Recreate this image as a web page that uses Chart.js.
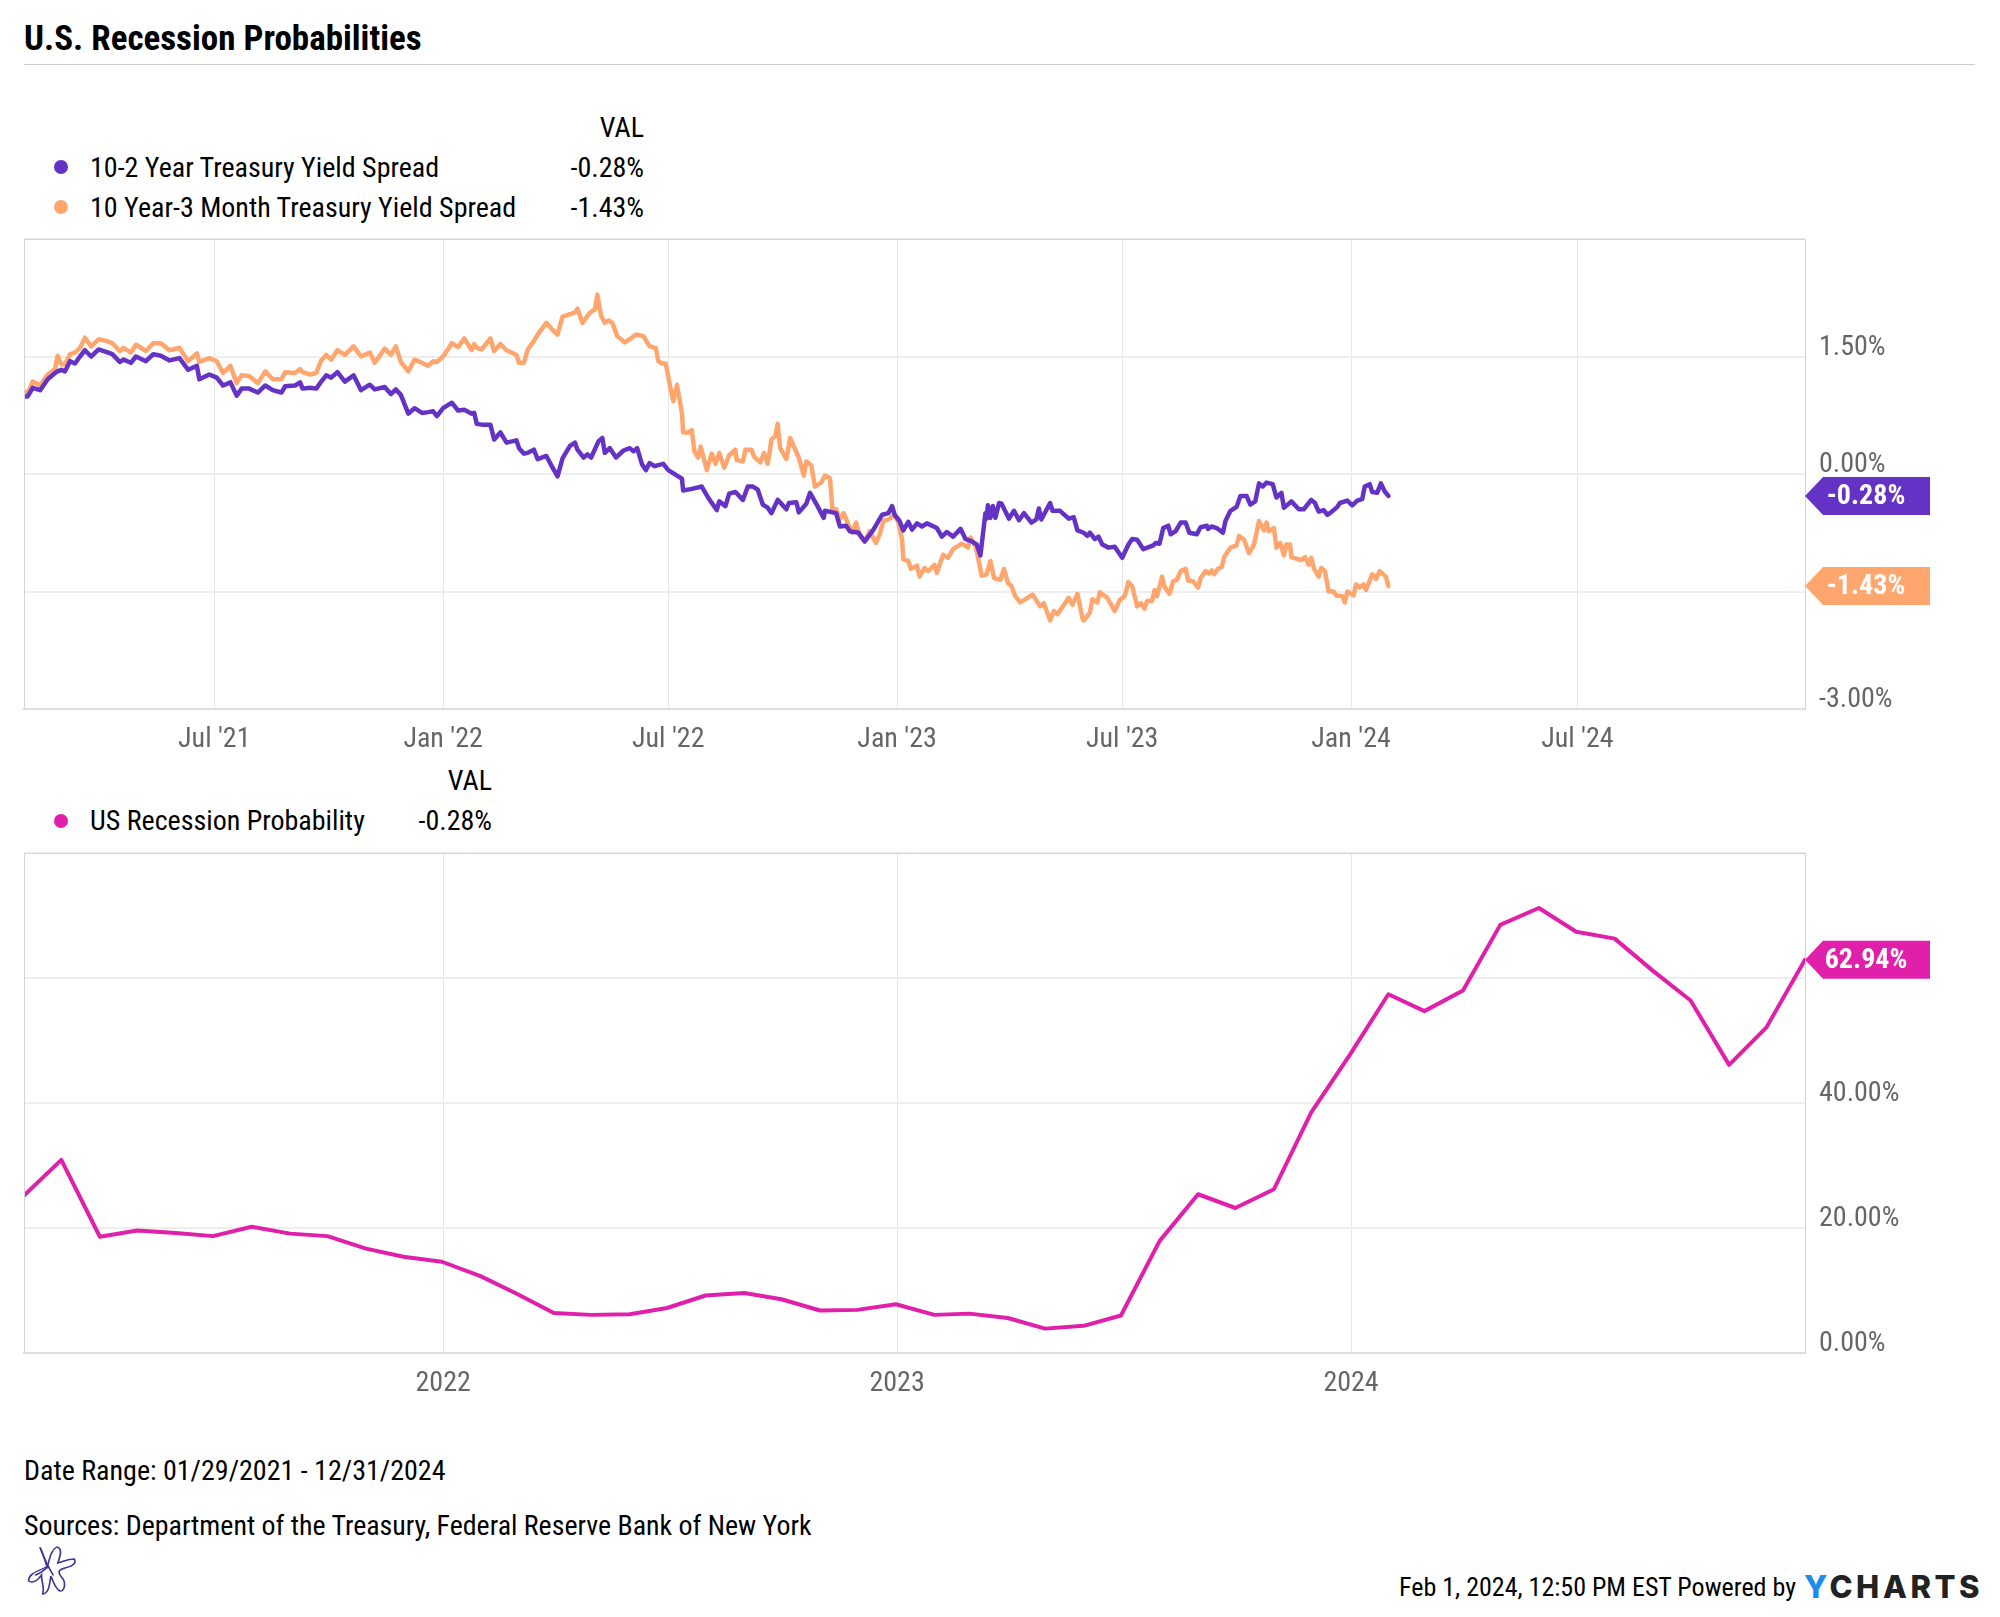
<!DOCTYPE html>
<html>
<head>
<meta charset="utf-8">
<title>U.S. Recession Probabilities</title>
<script src="https://cdn.jsdelivr.net/npm/chart.js@4"></script>
<style>
html, body { margin: 0; padding: 0; background: #fff; }
body { position: relative; width: 2000px; height: 1617px; overflow: hidden; font-family: "Roboto Condensed", Roboto, sans-serif; font-stretch: 75%; color: #000; }
canvas { position: absolute; left: 0; }
.t { position: absolute; white-space: nowrap; font-size: 28px; line-height: 32px; transform: translateY(-50%); }
.r { text-align: right; }
.dot { position: absolute; width: 14px; height: 14px; border-radius: 50%; transform: translate(-50%, -50%); }
#title { left: 24px; top: 39px; font-size: 35px; line-height: 40px; font-weight: 700; }
#rule { position: absolute; left: 24px; top: 64px; width: 1951px; height: 1px; background: #ccc; }
#stamp { font-size: 26px; right: 204px; top: 1587px; }
#brand { position: absolute; left: 1804px; top: 1571px; font-family: Inter, sans-serif; font-stretch: normal; font-size: 31px; line-height: 32px; font-weight: 800; letter-spacing: 3.6px; color: #222; }
#brand b { color: #1a8ee8; font-weight: 800; }
#logo { position: absolute; left: 25px; top: 1545px; }
</style>
</head>
<body>
<div class="t" id="title">U.S. Recession Probabilities</div>
<div id="rule"></div>

<div class="t r" style="right:1356px;top:128px">VAL</div>
<div class="dot" style="left:61px;top:167px;background:#6433c5"></div>
<div class="t" style="left:90px;top:168px">10-2 Year Treasury Yield Spread</div>
<div class="t r" style="right:1356px;top:168px">-0.28%</div>
<div class="dot" style="left:61px;top:207px;background:#ffa66e"></div>
<div class="t" style="left:90px;top:208px">10 Year-3 Month Treasury Yield Spread</div>
<div class="t r" style="right:1356px;top:208px">-1.43%</div>
<canvas id="chart-1" width="2000" height="552" style="top:208px;width:2000px;height:552px"></canvas>

<div class="t r" style="right:1508px;top:781px">VAL</div>
<div class="dot" style="left:61px;top:821px;background:#e01faa"></div>
<div class="t" style="left:90px;top:821px">US Recession Probability</div>
<div class="t r" style="right:1508px;top:821px">-0.28%</div>
<canvas id="chart-2" width="2000" height="592" style="top:822px;width:2000px;height:592px"></canvas>

<div class="t" style="left:24px;top:1471px">Date Range: 01/29/2021 - 12/31/2024</div>
<div class="t" style="left:24px;top:1526px;font-size:27.9px">Sources: Department of the Treasury, Federal Reserve Bank of New York</div>
<svg id="logo" width="54" height="52" viewBox="0 0 46 52" preserveAspectRatio="none" fill="none" stroke="#3a3796" stroke-width="1.4" stroke-linecap="round">
  <path d="M13 3 C17 12 17 18 19 22 C21 14 22 5 27 2 C33 3 29 14 28 18 C34 16 37 14 42 14 C44 18 41 21 34 23 C28 25 28 27 31 32 C36 38 33 47 30 46 C26 45 24 36 22 31 C21 40 20 49 15 49 C17 42 14 38 14 30 C10 37 6 38 3 36 C3 28 12 26 18 22"/>
  <path d="M13 3 C15 9 18 19 24 30 M19 22 C16 26 13 28 9 30"/>
</svg>
<div class="t" id="stamp">Feb 1, 2024, 12:50 PM EST Powered by</div>
<div id="brand"><b>Y</b>CHARTS</div>

<script>
// x values are days since the first date, 2021-01-29
const startDate = '2021-01-29';
const endDate = '2024-12-31';

const spread102Days = [0,3,7,13,19,25,27,30,33,37,41,45,49,54,60,66,71,77,80,86,90,98,104,110,117,125,132,139,141,149,155,160,166,171,175,181,188,194,200,207,210,218,222,224,230,
  235,239,243,247,252,258,265,271,278,282,290,295,299,303,309,314,320,325,329,332,337,344,349,354,360,362,364,368,375,378,383,388,396,398,402,405,410,413,420,425,429,433,439,443,445,
  450,453,456,462,465,467,471,476,482,487,490,493,497,500,503,507,514,518,525,529,530,537,545,550,557,559,564,567,572,578,582,586,590,594,598,601,606,613,615,621,623,629,632,637,643,644,653,656,661,664,671,
  676,683,690,695,698,700,704,707,711,714,718,722,726,734,738,742,747,753,757,762,766,769,773,774,775,777,779,781,784,786,792,796,800,804,810,814,816,818,825,827,833,840,844,847,852,855,857,861,864,867,872,
  877,883,888,891,895,900,908,910,913,916,920,922,926,930,934,937,943,946,951,952,955,959,964,966,970,975,978,983,986,990,993,996,999,1004,1007,1011,1013,1019,1025,1029,1035,1038,1041,1045,1048,1050,1056,1058,1064,1068,1072,1076,1078,1082,1084,1088,1091,1094,1097];
const spread102Vals = [.99,.99,1.10,1.07,1.21,1.29,1.31,1.33,1.31,1.44,1.41,1.50,1.58,1.50,1.59,1.56,1.53,1.43,1.46,1.42,1.50,1.44,1.53,1.51,1.45,1.48,1.33,1.38,1.21,1.27,1.23,1.13,1.17,1.00,1.09,1.09,1.04,1.13,1.07,1.04,1.12,1.13,1.17,1.09,1.10,
  1.09,1.18,1.26,1.23,1.30,1.18,1.26,1.07,1.14,1.08,1.11,1.02,1.08,1.01,.77,.84,.78,.79,.80,.74,.84,.91,.81,.82,.77,.78,.64,.63,.63,.44,.53,.40,.43,.33,.26,.27,.31,.19,.23,.08,-.03,.20,.36,.40,.31,
  .21,.25,.21,.42,.46,.27,.33,.21,.30,.33,.29,.33,.12,.05,.14,.10,.13,.05,-.02,-.06,-.21,-.19,-.16,-.30,-.46,-.35,-.41,-.25,-.23,-.33,-.16,-.16,-.20,-.39,-.43,-.50,-.33,-.45,-.37,-.36,-.49,-.38,-.24,-.38,-.56,-.47,-.50,-.67,-.66,-.73,-.75,
  -.86,-.71,-.52,-.50,-.41,-.52,-.60,-.72,-.61,-.71,-.63,-.67,-.63,-.69,-.80,-.74,-.80,-.70,-.83,-.86,-.90,-1.04,-.50,-.57,-.40,-.56,-.41,-.56,-.37,-.38,-.57,-.47,-.59,-.50,-.62,-.58,-.44,-.58,-.37,-.47,-.47,-.57,-.55,-.72,-.75,-.79,-.75,-.83,-.80,-.90,-.94,
  -.93,-1.07,-.90,-.83,-.84,-.96,-.91,-.88,-.89,-.69,-.66,-.77,-.73,-.62,-.62,-.75,-.77,-.68,-.66,-.70,-.67,-.69,-.75,-.60,-.47,-.42,-.28,-.28,-.39,-.35,-.12,-.16,-.11,-.13,-.30,-.24,-.43,-.35,-.45,-.45,-.33,-.37,-.48,-.46,-.52,-.50,-.42,-.37,-.34,-.40,-.34,-.32,-.16,-.13,-.23,-.24,-.12,-.22,-.28];

const spread103mDays = [0,3,7,13,19,25,27,30,33,37,41,45,49,54,60,66,71,77,80,86,90,98,104,110,117,125,132,139,141,149,155,160,166,171,175,181,188,194,200,207,210,218,222,224,230,
  235,239,243,247,252,258,265,271,278,282,290,295,299,303,309,314,320,325,329,332,337,344,349,354,360,362,364,368,375,378,383,388,396,398,402,405,410,413,420,425,429,433,439,443,445,449,455,
  459,461,464,467,470,473,477,483,487,492,498,503,508,510,513,516,519,522,525,529,530,534,537,539,542,544,549,553,556,559,563,567,572,573,578,580,585,587,592,595,598,601,604,606,608,613,616,623,627,629,633,636,641,644,648,650,653,656,659,663,666,669,
  672,676,680,685,688,691,695,700,703,706,707,711,713,718,720,724,727,732,734,739,743,747,754,759,761,765,767,770,774,777,780,785,788,791,794,797,801,805,811,817,820,825,828,831,840,843,847,851,852,857,859,863,865,871,
  877,881,885,888,891,895,898,901,903,907,909,911,915,917,921,924,927,930,934,936,940,944,946,950,953,955,957,960,963,965,970,975,977,981,985,989,993,997,999,1001,1005,1007,1010,1013,1015,1018,1019,1027,1030,1033,1035,1037,1041,1043,1046,1049,1053,1055,1060,1062,1064,1069,1071,1074,1077,1079,1084,1087,1090,1095,1097];
const spread103mVals = [1.06,1.03,1.18,1.13,1.27,1.34,1.51,1.40,1.40,1.53,1.55,1.61,1.74,1.63,1.72,1.70,1.67,1.57,1.61,1.55,1.65,1.57,1.67,1.67,1.58,1.61,1.44,1.54,1.43,1.48,1.44,1.29,1.38,1.16,1.26,1.25,1.16,1.31,1.21,1.21,1.30,1.29,1.34,1.30,1.27,
  1.29,1.45,1.52,1.46,1.58,1.52,1.63,1.50,1.55,1.42,1.60,1.52,1.63,1.43,1.31,1.46,1.42,1.38,1.44,1.43,1.50,1.67,1.62,1.73,1.58,1.66,1.61,1.59,1.73,1.57,1.66,1.58,1.52,1.42,1.42,1.59,1.70,1.78,1.93,1.84,1.78,2.01,2.04,2.06,2.11,1.93,2.06,
  2.10,2.29,2.02,1.93,1.96,1.93,1.76,1.68,1.72,1.78,1.76,1.63,1.61,1.44,1.41,1.41,1.16,.93,1.14,.78,.53,.53,.56,.29,.21,.35,.05,.26,.13,.27,.08,.24,.31,.18,.16,.31,.31,.22,.15,.27,.13,.44,.48,.64,.33,.19,.46,.21,-.02,.16,.11,-.16,-.11,-.02,-.05,-.45,-.45,-.58,-.50,-.65,-.75,-.62,
  -.79,-.86,-.73,-.88,-.77,-.60,-.58,-.52,-.62,-.84,-1.09,-1.11,-1.21,-1.17,-1.31,-1.20,-1.24,-1.16,-1.26,-1.03,-1.07,-.96,-.89,-.94,-.81,-.92,-1.06,-1.30,-1.28,-1.11,-1.33,-1.35,-1.21,-1.39,-1.43,-1.56,-1.64,-1.60,-1.54,-1.69,-1.65,-1.87,-1.75,-1.79,-1.58,-1.67,-1.53,-1.84,-1.87,-1.77,-1.60,-1.64,-1.51,-1.58,
  -1.75,-1.61,-1.56,-1.38,-1.43,-1.69,-1.65,-1.72,-1.62,-1.62,-1.48,-1.56,-1.31,-1.44,-1.53,-1.37,-1.35,-1.24,-1.21,-1.36,-1.37,-1.45,-1.33,-1.24,-1.27,-1.23,-1.28,-1.21,-1.19,-1.06,-.94,-.91,-.79,-.84,-1.01,-.90,-.60,-.72,-.62,-.73,-.69,-.94,-.88,-1.04,-.90,-.90,-1.06,-1.10,-1.06,-1.16,-1.07,-1.20,-1.31,-1.20,-1.24,-1.50,-1.50,-1.55,-1.56,-1.64,-1.50,-1.55,-1.41,-1.45,-1.41,-1.48,-1.28,-1.34,-1.24,-1.31,-1.43];

const recessionDates = ['2021-01-29','2021-02-28','2021-03-31','2021-04-30','2021-05-31','2021-06-30','2021-07-31','2021-08-31','2021-09-30','2021-10-31','2021-11-30','2021-12-31',
  '2022-01-31','2022-02-28','2022-03-31','2022-04-30','2022-05-31','2022-06-30','2022-07-31','2022-08-31','2022-09-30','2022-10-31','2022-11-30','2022-12-31',
  '2023-01-31','2023-02-28','2023-03-31','2023-04-30','2023-05-31','2023-06-30','2023-07-31','2023-08-31','2023-09-30','2023-10-31','2023-11-30','2023-12-31',
  '2024-01-31','2024-02-29','2024-03-31','2024-04-30','2024-05-31','2024-06-30','2024-07-31','2024-08-31','2024-09-30','2024-10-31','2024-11-30','2024-12-31'];
const recessionVals = [25.2,30.9,18.6,19.6,19.2,18.7,20.2,19.1,18.7,16.7,15.4,14.6,12.3,9.6,6.4,6.1,6.2,7.2,9.2,9.6,8.6,6.8,6.9,7.8,6.1,6.3,5.6,3.9,4.35,6.0,17.9,25.4,23.2,26.2,38.5,47.7,57.4,54.7,58.0,68.5,71.2,67.4,66.3,61.1,56.4,46.1,52.1,62.94];

const spreadTickDates = ['2021-07-01','2022-01-01','2022-07-01','2023-01-01','2023-07-01','2024-01-01','2024-07-01'];
const spreadTickLabels = ["Jul '21","Jan '22","Jul '22","Jan '23","Jul '23","Jan '24","Jul '24"];
const recessionTickDates = ['2022-01-01','2023-01-01','2024-01-01'];
const recessionTickLabels = ['2022','2023','2024'];

const spreadYTicks = [-3, -1.5, 0, 1.5, 3];
const spreadYShown = [-3, 0, 1.5];
const recessionYTicks = [0, 20, 40, 60, 80];
const recessionYShown = [0, 20, 40];

const purple = '#6433c5', orange = '#ffa66e', pink = '#e01faa';
const fontFamily = '"Roboto Condensed", Roboto, sans-serif';

function toDay(d) {
  return (Date.parse(d) - Date.parse(startDate)) / 86400000;
}
function points(xs, ys) {
  return xs.map((x, i) => ({ x: x, y: ys[i] }));
}

// frame around the plot and the value flags on the right
const flagsPlugin = {
  id: 'flags',
  beforeDraw(chart) { chart.ctx.fontStretch = 'condensed'; },
  afterDraw(chart) {
    const ctx = chart.ctx, a = chart.chartArea, y = chart.scales.y;
    ctx.save();
    ctx.strokeStyle = '#d4d4d4';
    ctx.lineWidth = 1;
    ctx.beginPath();
    ctx.moveTo(a.left + .5, a.bottom);
    ctx.lineTo(a.left + .5, a.top + .5);
    ctx.lineTo(a.right, a.top + .5);
    ctx.stroke();
    chart.data.datasets.forEach(ds => {
      const v = ds.data[ds.data.length - 1].y;
      const py = y.getPixelForValue(v);
      ctx.fillStyle = ds.borderColor;
      ctx.beginPath();
      ctx.moveTo(a.right, py);
      ctx.lineTo(a.right + 18, py - 19);
      ctx.lineTo(a.right + 125, py - 19);
      ctx.lineTo(a.right + 125, py + 19);
      ctx.lineTo(a.right + 18, py + 19);
      ctx.closePath();
      ctx.fill();
      ctx.fillStyle = '#fff';
      ctx.font = '700 28px ' + fontFamily;
      ctx.fontStretch = 'condensed';
      ctx.textAlign = 'center';
      ctx.textBaseline = 'middle';
      ctx.fillText(v.toFixed(2) + '%', a.right + 61, py + 1);
    });
    ctx.restore();
  }
};

function makeChart(id, datasets, tickDates, tickLabels, yMin, yMax, yTicks, yShown, axisHeight) {
  const tickDays = tickDates.map(toDay);
  return new Chart(document.getElementById(id).getContext('2d'), {
    type: 'line',
    data: { datasets: datasets },
    plugins: [flagsPlugin],
    options: {
      responsive: false,
      animation: false,
      devicePixelRatio: 1,
      layout: { autoPadding: false, padding: { left: 24, top: 31, right: 0, bottom: 0 } },
      plugins: { legend: { display: false }, tooltip: { enabled: false } },
      elements: { point: { radius: 0 }, line: { tension: 0, borderJoinStyle: 'round', borderCapStyle: 'round' } },
      scales: {
        x: {
          type: 'linear',
          min: 0,
          max: toDay(endDate),
          afterBuildTicks: s => { s.ticks = tickDays.map(v => ({ value: v })); },
          afterFit: s => { s.height = axisHeight; },
          grid: { color: '#e6e6e6', lineWidth: 1, drawTicks: false },
          border: { color: '#dedede', width: 2 },
          ticks: {
            autoSkip: false,
            maxRotation: 0,
            padding: 14,
            color: '#666',
            font: { family: fontFamily, size: 28 },
            callback: v => tickLabels[tickDays.indexOf(v)]
          }
        },
        y: {
          position: 'right',
          min: yMin,
          max: yMax,
          afterBuildTicks: s => { s.ticks = yTicks.map(v => ({ value: v })); },
          afterFit: s => { s.width = 195; },
          grid: { color: '#eeeeee', lineWidth: 2, drawTicks: false },
          border: { color: '#d4d4d4', width: 1 },
          ticks: {
            padding: 14,
            labelOffset: -9,
            color: '#666',
            font: { family: fontFamily, size: 28 },
            callback: v => yShown.includes(v) ? v.toFixed(2) + '%' : ''
          }
        }
      }
    }
  });
}

makeChart('chart-1', [
  { data: points(spread102Days, spread102Vals), borderColor: purple, borderWidth: 4.5 },
  { data: points(spread103mDays, spread103mVals), borderColor: orange, borderWidth: 4.5 }
], spreadTickDates, spreadTickLabels, -3, 3, spreadYTicks, spreadYShown, 51);

makeChart('chart-2', [
  { data: points(recessionDates.map(toDay), recessionVals), borderColor: pink, borderWidth: 4 }
], recessionTickDates, recessionTickLabels, 0, 80, recessionYTicks, recessionYShown, 61);
</script>
</body>
</html>
